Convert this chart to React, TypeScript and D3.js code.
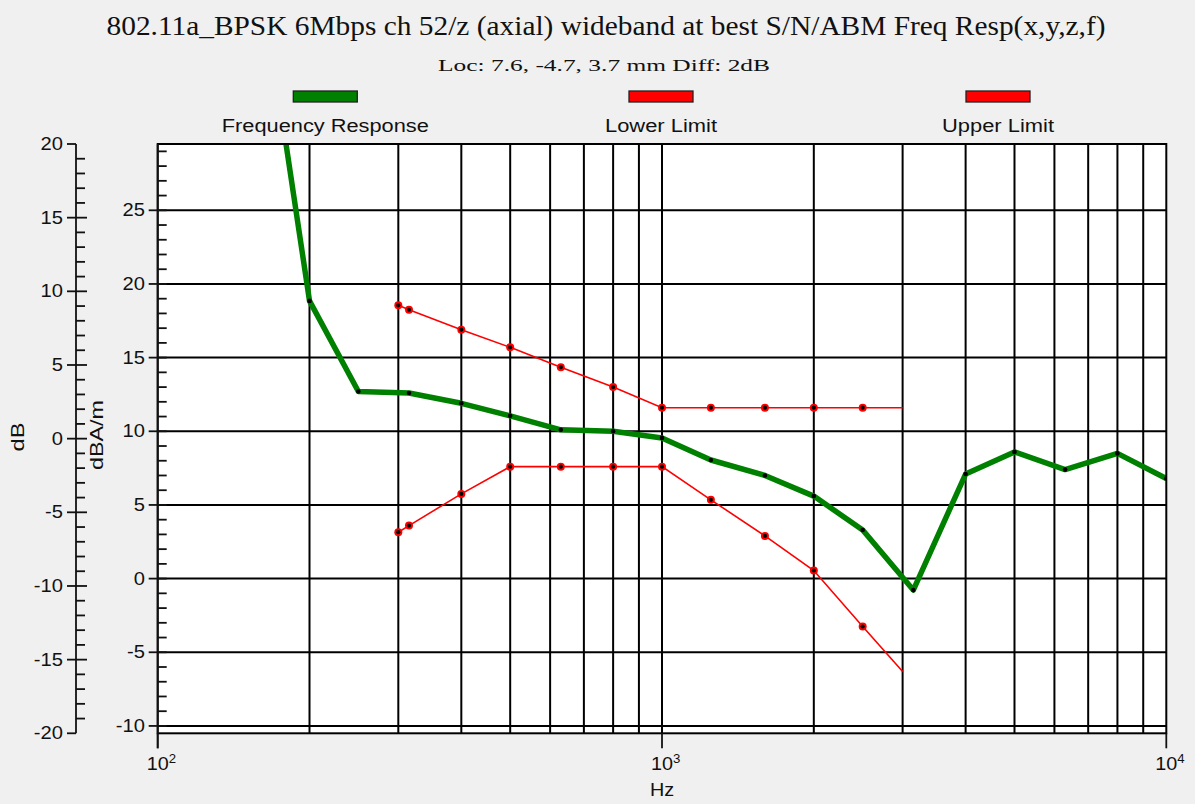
import React from 'react';
import * as d3 from 'd3';

const W = 1195;
const H = 804;

// Frequency response (Hz, dBA/m)
const respFreq = [160, 200, 250, 315, 400, 500, 630, 800, 1000, 1250, 1600, 2000, 2500, 3150, 4000, 5000, 6300, 8000, 10000];
const respVal = [41, 18.85, 12.7, 12.6, 11.9, 11.05, 10.1, 10.0, 9.55, 8.05, 7.0, 5.6, 3.3, -0.78, 7.1, 8.6, 7.4, 8.5, 6.8];
// Lower limit
const lowerFreq = [300, 315, 400, 500, 630, 800, 1000, 1250, 1600, 2000, 2500, 3000];
const lowerVal = [3.15, 3.6, 5.75, 7.6, 7.6, 7.6, 7.6, 5.35, 2.9, 0.55, -3.25, -6.3];
// Upper limit
const upperFreq = [300, 315, 400, 500, 630, 800, 1000, 1250, 1600, 2000, 2500, 3000];
const upperVal = [18.55, 18.25, 16.9, 15.7, 14.35, 13.0, 11.6, 11.6, 11.6, 11.6, 11.6, 11.6];

const seriesNames = ['Frequency Response', 'Lower Limit', 'Upper Limit'];
const seriesColors = ['#008000', '#ff0000', '#ff0000'];

const leftTicks = [-20, -15, -10, -5, 0, 5, 10, 15, 20];
const rightTicks = [-10, -5, 0, 5, 10, 15, 20, 25];
const xDecades = [100, 1000, 10000];
const xDecadeExp = ['2', '3', '4'];
const xGrid = [200, 300, 400, 500, 600, 700, 800, 900, 1000, 2000, 3000, 4000, 5000, 6000, 7000, 8000, 9000];

const titleText = '802.11a_BPSK 6Mbps ch 52/z (axial) wideband at best S/N/ABM Freq Resp(x,y,z,f)';
const subtitleText = 'Loc: 7.6, -4.7, 3.7 mm Diff: 2dB';

const PL = 157.7, PR = 1166.3, PT = 144, PB = 733.3;
const LEFT_AXIS_X = 76;

const SANS = '"Liberation Sans", Arial, sans-serif';
const SERIF = '"Liberation Serif", "Times New Roman", serif';

export default function App() {
  const x = d3.scaleLog().domain([100, 10000]).range([PL, PR]);
  const yR = d3.scaleLinear().domain([-10.5, 29.5]).range([PB, PT]);
  const yL = d3.scaleLinear().domain([-20, 20]).range([PB, PT]);

  const line = d3.line<[number, number]>().x(d => x(d[0])).y(d => yR(d[1]));
  const resp: [number, number][] = respFreq.map((f, i) => [f, respVal[i]]);
  const lower: [number, number][] = lowerFreq.map((f, i) => [f, lowerVal[i]]);
  const upper: [number, number][] = upperFreq.map((f, i) => [f, upperVal[i]]);

  const leftMinor = d3.range(-19, 20, 1).filter(v => v % 5 !== 0);
  const rightMinor = d3.range(-10, 30, 1).filter(v => v % 5 !== 0 && yR(v) >= PT && yR(v) <= PB);

  const legendX = [325.3, 661, 998];

  const tickLabel = (tx: number, ty: number, s: string, key: string) => (
    <g key={key} transform={`translate(${tx},${ty}) scale(1.12,1)`}>
      <text x={0} y={0} textAnchor="end" dominantBaseline="central" fontFamily={SANS} fontSize={18} fill="#111">{s}</text>
    </g>
  );

  return (
    <svg width={W} height={H} style={{ position: 'absolute', left: 0, top: 0 }} xmlns="http://www.w3.org/2000/svg">
      <defs>
        <clipPath id="plotClip">
          <rect x={PL} y={PT} width={PR - PL} height={PB - PT} />
        </clipPath>
      </defs>
      <rect x={0} y={0} width={W} height={H} fill="#f0f0f0" />

      {/* Title */}
      <text x={606} y={35} textAnchor="middle" fontFamily={SERIF} fontSize={28} fill="#111" textLength={999} lengthAdjust="spacingAndGlyphs">{titleText}</text>
      <text x={604} y={71} textAnchor="middle" fontFamily={SERIF} fontSize={17.5} fill="#111" textLength={332} lengthAdjust="spacingAndGlyphs">{subtitleText}</text>

      {/* Legend */}
      {seriesNames.map((n, i) => (
        <g key={n}>
          <rect x={legendX[i] - 32} y={91} width={64} height={11} fill={seriesColors[i]} stroke="#222" strokeWidth={1.3} />
          <text x={legendX[i]} y={132} textAnchor="middle" fontFamily={SANS} fontSize={18} fill="#111"
            textLength={n === 'Frequency Response' ? 207 : 112} lengthAdjust="spacingAndGlyphs">{n}</text>
        </g>
      ))}

      {/* Plot area */}
      <rect x={PL} y={PT} width={PR - PL} height={PB - PT} fill="#ffffff" />

      {/* Grid */}
      {xGrid.map(f => (
        <line key={'gx' + f} x1={x(f)} x2={x(f)} y1={PT} y2={PB} stroke="#000" strokeWidth={2} />
      ))}
      {rightTicks.map(v => (
        <line key={'gy' + v} x1={PL} x2={PR} y1={yR(v)} y2={yR(v)} stroke="#000" strokeWidth={2} />
      ))}

      {/* Series */}
      <g clipPath="url(#plotClip)">
        <path d={line(lower) || ''} fill="none" stroke="#ff0000" strokeWidth={1.6} />
        <path d={line(upper) || ''} fill="none" stroke="#ff0000" strokeWidth={1.6} />
        {[lower, upper].map((s, si) => s.slice(0, -1).map((d, i) => (
          <g key={`m${si}-${i}`}>
            <circle cx={x(d[0])} cy={yR(d[1])} r={4} fill="#ff0000" />
            <circle cx={x(d[0])} cy={yR(d[1])} r={2.1} fill="#000" />
          </g>
        )))}
        <path d={line(resp) || ''} fill="none" stroke="#008000" strokeWidth={5.5} strokeLinejoin="round" />
        {resp.map((d, i) => (
          <circle key={'rd' + i} cx={x(d[0])} cy={yR(d[1])} r={2.3} fill="#000" />
        ))}
      </g>

      {/* Plot border */}
      <rect x={PL} y={PT} width={PR - PL} height={PB - PT} fill="none" stroke="#000" strokeWidth={2} />

      {/* Left axis (dB) */}
      <line x1={LEFT_AXIS_X} x2={LEFT_AXIS_X} y1={PT} y2={PB} stroke="#111" strokeWidth={1.8} />
      {leftTicks.map(v => (
        <line key={'lt' + v} x1={LEFT_AXIS_X - 9} x2={v === 20 || v === -20 ? LEFT_AXIS_X : LEFT_AXIS_X + 11} y1={yL(v)} y2={yL(v)} stroke="#111" strokeWidth={1.8} />
      ))}
      {leftMinor.map(v => (
        <line key={'lm' + v} x1={LEFT_AXIS_X} x2={LEFT_AXIS_X + 9} y1={yL(v)} y2={yL(v)} stroke="#111" strokeWidth={1.8} />
      ))}
      {leftTicks.map(v => tickLabel(63, yL(v), String(v), 'll' + v))}

      {/* Right axis (dBA/m) at plot left */}
      <line x1={PL} x2={PL} y1={PT} y2={PB + 15} stroke="#111" strokeWidth={1.8} />
      {rightTicks.map(v => (
        <line key={'rt' + v} x1={PL - 9} x2={PL + 9} y1={yR(v)} y2={yR(v)} stroke="#111" strokeWidth={1.8} />
      ))}
      {rightMinor.map(v => (
        <line key={'rm' + v} x1={PL} x2={PL + 9} y1={yR(v)} y2={yR(v)} stroke="#111" strokeWidth={1.8} />
      ))}
      {rightTicks.map(v => tickLabel(145, yR(v), String(v), 'rl' + v))}

      {/* Axis titles */}
      <text transform={`translate(24,437) rotate(-90)`} textAnchor="middle" fontFamily={SANS} fontSize={18} fill="#111" textLength={29} lengthAdjust="spacingAndGlyphs">dB</text>
      <text transform={`translate(103,435) rotate(-90)`} textAnchor="middle" fontFamily={SANS} fontSize={18} fill="#111" textLength={70} lengthAdjust="spacingAndGlyphs">dBA/m</text>

      {/* X axis */}
      {xDecades.map((f, i) => (
        <g key={'xd' + f}>
          <line x1={x(f)} x2={x(f)} y1={PB} y2={PB + 15} stroke="#111" strokeWidth={1.8} />
          <g transform={`translate(${x(f) - 11},770) scale(1.1,1)`}>
            <text x={0} y={0} fontFamily={SANS} fontSize={18} fill="#111">10<tspan dy={-7} fontSize={12}>{xDecadeExp[i]}</tspan></text>
          </g>
        </g>
      ))}
      <g transform={`translate(${x(1000)},796) scale(1.1,1)`}>
        <text x={0} y={0} textAnchor="middle" fontFamily={SANS} fontSize={18} fill="#111">Hz</text>
      </g>
    </svg>
  );
}
